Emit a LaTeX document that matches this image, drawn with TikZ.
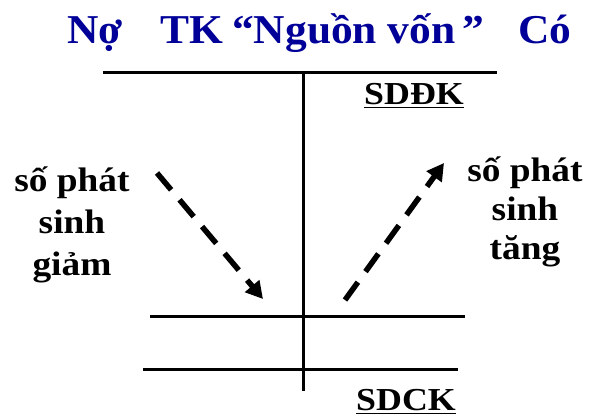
\documentclass[tikz,border=0pt]{standalone}
\usepackage{fontspec}
\setmainfont{Liberation Serif}
\usetikzlibrary{arrows.meta}
\definecolor{titleblue}{RGB}{0,0,153}
\tikzset{
  ttl/.style={font=\fontsize{41}{41}\selectfont\bfseries\addfontfeature{FakeStretch=1.06}, text=titleblue, inner sep=0pt, anchor=base west},
  lbl/.style={font=\fontsize{34}{42}\selectfont\bfseries\addfontfeature{FakeStretch=1.1}, align=center, inner sep=0pt, anchor=base},
  lblr/.style={lbl, font=\fontsize{34}{39}\selectfont\bfseries\addfontfeature{FakeStretch=1.1}},
  sd/.style={font=\fontsize{32}{32}\selectfont\bfseries\addfontfeature{FakeStretch=1.12}, inner sep=0pt, anchor=base west},
  tline/.style={line width=3pt},
  darrow/.style={line width=5.5pt, dash pattern=on 22pt off 13pt, -{Triangle[length=17pt,width=18pt]}}
}
\begin{document}
\begin{tikzpicture}[x=1pt,y=-1pt]
\useasboundingbox (0,0) rectangle (590,419);
% title
\node[ttl] (no) at (67,44) {Nợ};
\node[ttl] (tk) at (160,44) {TK};
\node[ttl] (nv) at (232,44) {“Nguồn vốn\hspace{7pt}”};
\node[ttl] (co) at (518,44) {Có};
% T account lines
\coordinate (tl) at (103,73);
\coordinate (tr) at (497,73);
\coordinate (vt) at (303,73);
\coordinate (vb) at (303,391);
\coordinate (l1a) at (150,317);
\coordinate (l1b) at (465,317);
\coordinate (l2a) at (143,370);
\coordinate (l2b) at (458,370);
\draw[tline] (tl) -- (tr);
\draw[tline] (vt) -- (vb);
\draw[tline] (l1a) -- (l1b);
\draw[tline] (l2a) -- (l2b);
% balances
\node[sd] (sddk) at (364,105) {\underline{SDĐK}};
\node[sd] (sdck) at (356,411) {\underline{SDCK}};
% labels
\node[lbl] (left) at (72,276) {số phát\\sinh\\giảm};
\node[lblr] (right) at (525,260) {số phát\\sinh\\tăng};
% arrows
\coordinate (la) at (157,173);
\coordinate (lb) at (263,299);
\coordinate (ra) at (345,300);
\coordinate (rb) at (444,163);
\draw[darrow] (la) -- (lb);
\draw[darrow] (ra) -- (rb);
\end{tikzpicture}
\end{document}
